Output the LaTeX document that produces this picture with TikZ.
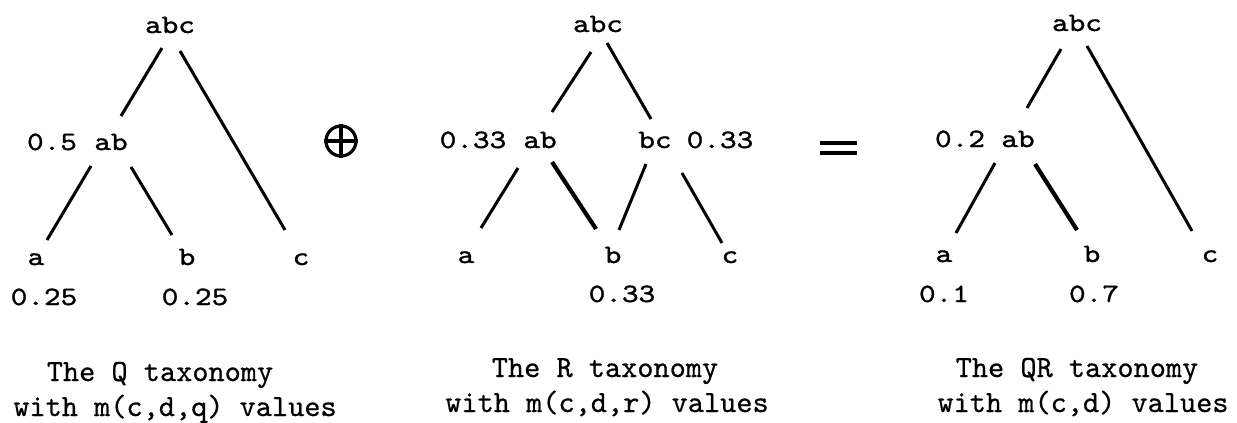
\documentclass[tikz,border=0pt]{standalone}
\usepackage{fontspec}
\newfontfamily\treefont[FakeStretch=1.2,FakeBold=1.2]{lmmono10-regular.otf}
\newfontfamily\capfont[FakeBold=0.6]{lmmono10-regular.otf}
\begin{document}
\begin{tikzpicture}[x=0.5pt,y=-0.5pt,
  tx/.style={inner sep=0pt, anchor=base, font=\treefont\fontsize{13.2}{16}\selectfont},
  captext/.style={inner sep=0pt, anchor=base, font=\capfont\fontsize{15.4}{18}\selectfont},
  edge/.style={line width=1.5pt},
  thick edge/.style={line width=2.1pt}]
\path[use as bounding box] (0,0) rectangle (1237,423);

% ---------- Q taxonomy ----------
\node[tx] (Qabc) at (170,33) {abc};
\node[tx] (Qab)  at (111,150) {ab};
\node[tx] (Qabv) at (52,150) {0.5};
\node[tx] (Qa) at (36,265) {a};
\node[tx] (Qb) at (187,265) {b};
\node[tx] (Qc) at (301,265) {c};
\node[tx] (Qav) at (44,305) {0.25};
\node[tx] (Qbv) at (195,305) {0.25};
\draw[edge] ([shift={(-8,15)}]Qabc.base) -- ([shift={(10,-34)}]Qab.base);
\draw[edge] ([shift={(10,18)}]Qabc.base) -- ([shift={(-16,-35)}]Qc.base);
\draw[edge] ([shift={(-20,16)}]Qab.base) -- ([shift={(11,-25)}]Qa.base);
\draw[edge] ([shift={(20,17)}]Qab.base) -- ([shift={(-15,-30)}]Qb.base);

% ---------- oplus ----------
\node[circle, draw, line width=1.6pt, minimum size=15pt, inner sep=0pt] (op) at (341,141) {};
\draw[line width=1.6pt] (op.north) -- (op.south) (op.west) -- (op.east);

% ---------- R taxonomy ----------
\node[tx] (Rabc) at (598,32) {abc};
\node[tx] (Rab)  at (540,148) {ab};
\node[tx] (Rabv) at (473,148) {0.33};
\node[tx] (Rbc)  at (655,148) {bc};
\node[tx] (Rbcv) at (720,148) {0.33};
\node[tx] (Ra) at (466,263) {a};
\node[tx] (Rb) at (613,263) {b};
\node[tx] (Rc) at (730,263) {c};
\node[tx] (Rbv) at (622,302) {0.33};
\draw[edge] ([shift={(-7,20)}]Rabc.base) -- ([shift={(12,-36)}]Rab.base);
\draw[edge] ([shift={(9,11)}]Rabc.base) -- ([shift={(-4,-29)}]Rbc.base);
\draw[edge] ([shift={(-22,20)}]Rab.base) -- ([shift={(15,-35)}]Ra.base);
\draw[thick edge] ([shift={(12,14)}]Rab.base) -- ([shift={(-17,-34)}]Rb.base);
\draw[edge] ([shift={(-9,16)}]Rbc.base) -- ([shift={(6,-33)}]Rb.base);
\draw[edge] ([shift={(27,25)}]Rbc.base) -- ([shift={(-8,-20)}]Rc.base);

% ---------- equals ----------
\coordinate (eq) at (838,148);
\draw[line width=2.2pt] ([shift={(-18,-5)}]eq) -- ([shift={(19,-5)}]eq);
\draw[line width=2.2pt] ([shift={(-18,5)}]eq) -- ([shift={(19,5)}]eq);

% ---------- QR taxonomy ----------
\node[tx] (Tabc) at (1077,31) {abc};
\node[tx] (Tab)  at (1018,147) {ab};
\node[tx] (Tabv) at (960,147) {0.2};
\node[tx] (Ta) at (944,262) {a};
\node[tx] (Tb) at (1092,262) {b};
\node[tx] (Tc) at (1210,262) {c};
\node[tx] (Tav) at (944,302) {0.1};
\node[tx] (Tbv) at (1094,302) {0.7};
\draw[edge] ([shift={(-16,18)}]Tabc.base) -- ([shift={(9,-39)}]Tab.base);
\draw[edge] ([shift={(10,15)}]Tabc.base) -- ([shift={(-18,-31)}]Tc.base);
\draw[edge] ([shift={(-23,16)}]Tab.base) -- ([shift={(12,-29)}]Ta.base);
\draw[thick edge] ([shift={(17,17)}]Tab.base) -- ([shift={(-15,-32)}]Tb.base);

% ---------- captions ----------
\node[captext] (c1a) at (160,381) {The Q taxonomy};
\node[captext] (c1b) at (175,416) {with m(c,d,q) values};
\node[captext] (c2a) at (605,377) {The R taxonomy};
\node[captext] (c2b) at (607,412) {with m(c,d,r) values};
\node[captext] (c3a) at (1077,377) {The QR taxonomy};
\node[captext] (c3b) at (1083,412) {with m(c,d) values};
\end{tikzpicture}
\end{document}
